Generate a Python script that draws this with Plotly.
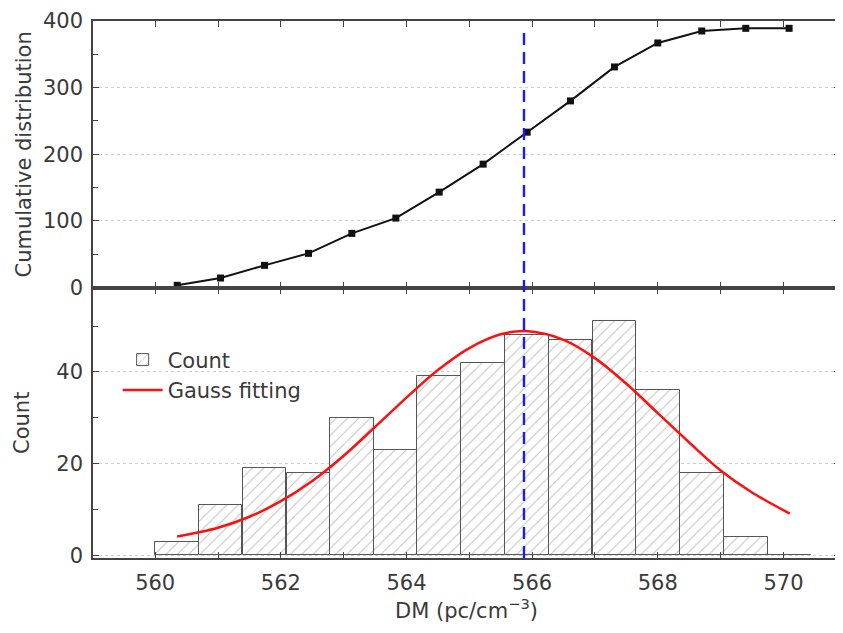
import plotly.graph_objects as go
from plotly.subplots import make_subplots

# histogram bins (DM, pc/cm^-3) and counts
dm_centers = [560.35, 561.04, 561.74, 562.44, 563.13, 563.83, 564.52, 565.22,
              565.92, 566.61, 567.31, 568.00, 568.70, 569.40, 570.09]
counts = [3, 11, 19, 18, 30, 23, 39, 42, 48, 47, 51, 36, 18, 4, 0]

# cumulative distribution, upper panel
cumulative = [3, 14, 33, 51, 81, 104, 143, 185, 233, 280, 331, 367, 385, 389, 389]

# gauss fit curve
gauss_x = [560.35, 561.0, 561.5, 562.0, 562.5, 563.0, 563.5, 564.0, 564.5, 565.0,
           565.5, 565.9, 566.5, 567.0, 567.5, 568.0, 568.5, 569.0, 569.5, 570.1]
gauss_y = [4.1, 6.0, 8.4, 11.8, 16.2, 21.7, 28.0, 34.4, 40.4, 45.2,
           48.2, 48.9, 47.0, 43.0, 37.4, 31.0, 24.6, 18.5, 13.7, 9.1]

dm_mean = 565.87

FONT = "DejaVu Sans"
FS = 21
TXT = "#3a3a3a"
AX = "#444444"

fig = make_subplots(rows=2, cols=1, shared_xaxes=True, vertical_spacing=0,
                    row_heights=[0.4972, 0.5028])

fig.add_trace(go.Scatter(
    x=dm_centers, y=cumulative, mode="lines+markers",
    line=dict(color="#111111", width=2),
    marker=dict(symbol="square", size=7, color="#111111"),
    showlegend=False), row=1, col=1)

fig.add_trace(go.Bar(
    x=dm_centers, y=counts, width=0.696, name="Count",
    marker=dict(color="white", line=dict(color="#555555", width=1),
                pattern=dict(shape="/", fgcolor="#8a8a8a", bgcolor="white",
                             size=8, solidity=0.14)),
    ), row=2, col=1)

fig.add_trace(go.Scatter(
    x=gauss_x, y=gauss_y, mode="lines", name="Gauss fitting",
    line=dict(color="#ff1010", width=2.5, shape="spline")), row=2, col=1)

fig.add_shape(type="line", xref="x", yref="paper", x0=dm_mean, x1=dm_mean,
              y0=0, y1=0.99, line=dict(color="#1a1aff", width=2.4, dash="12px,7px"))

axis_common = dict(
    showline=True, linecolor=AX, linewidth=1.6, mirror="ticks",
    ticks="inside", ticklen=6, tickcolor=AX, tickwidth=1.2,
    tickfont=dict(family=FONT, size=FS, color=TXT), zeroline=False,
    ticklabeloverflow="allow",
)

fig.update_xaxes(range=[559.01, 570.9], dtick=2, tick0=560,
                 minor=dict(ticks="inside", dtick=1, ticklen=6, tickcolor=AX),
                 showgrid=False, **axis_common)
fig.update_xaxes(showticklabels=False, row=1, col=1)
fig.update_xaxes(title=dict(text="DM (pc/cm<sup>−3</sup>)", standoff=6,
                            font=dict(family=FONT, size=FS, color=TXT)),
                 ticklabelstandoff=5, row=2, col=1)

fig.update_yaxes(range=[-1, 400], dtick=100,
                 minor=dict(ticks="inside", dtick=50, ticklen=5, tickcolor=AX),
                 showgrid=True, gridcolor="#cfcfcf", griddash="dot", gridwidth=1,
                 ticklabelstandoff=4, row=1, col=1, **axis_common)
fig.update_yaxes(range=[-0.6, 58.3], dtick=20,
                 minor=dict(ticks="inside", dtick=10, ticklen=5, tickcolor=AX),
                 showgrid=True, gridcolor="#cfcfcf", griddash="dot", gridwidth=1,
                 ticklabelstandoff=4, row=2, col=1, **axis_common)

fig.add_annotation(text="Cumulative distribution", xref="paper", yref="y domain",
                   x=0, y=0.5, xshift=-69, xanchor="center", yanchor="middle",
                   textangle=-90, showarrow=False,
                   font=dict(family=FONT, size=FS, color=TXT))
fig.add_annotation(text="Count", xref="paper", yref="y2 domain",
                   x=0, y=0.5, xshift=-71, xanchor="center", yanchor="middle",
                   textangle=-90, showarrow=False,
                   font=dict(family=FONT, size=FS, color=TXT))

# page body adds an 8px offset, so the figure is sized to fit the window
fig.update_layout(
    width=835, height=617,
    margin=dict(l=85, r=1, t=9, b=67),
    plot_bgcolor="white", paper_bgcolor="white",
    font=dict(family=FONT, size=FS, color=TXT),
    bargap=0,
    legend=dict(x=0.033, y=0.407, xanchor="left", yanchor="top",
                bgcolor="rgba(0,0,0,0)", font=dict(family=FONT, size=FS, color=TXT),
                tracegroupgap=0, itemwidth=40),
)

fig.write_html("out.html")
